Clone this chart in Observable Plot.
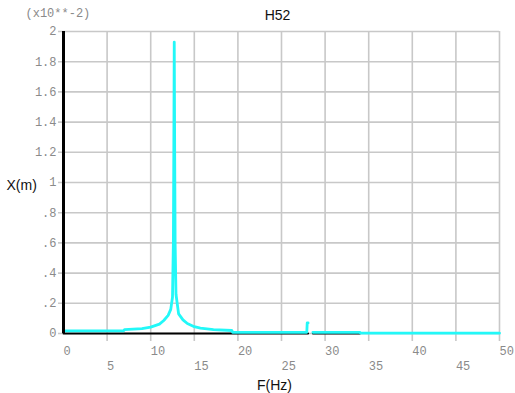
<!DOCTYPE html>
<html>
<head>
<meta charset="utf-8">
<script src="https://cdn.jsdelivr.net/npm/d3@7"></script>
<script src="https://cdn.jsdelivr.net/npm/@observablehq/plot@0.6"></script>
<style>
  html, body { margin: 0; padding: 0; background: #fff; }
</style>
</head>
<body>
<div id="chart"></div>
<script>
// Cyan response curve (F in Hz, X in units of 1e-2 m)
const freqs = [0, 6.9, 7.0, 9, 10, 11, 11.5, 12.0, 12.3, 12.5, 12.6, 12.65, 12.7, 12.75, 12.8, 12.9, 13.2, 13.7, 14.2, 15.0, 15.7, 17.2, 19.3, 19.4, 27.9, 27.95, 28.05, 28.06, 28.6, 34.0, 34.05, 50];
const amps  = [0.018, 0.018, 0.026, 0.032, 0.042, 0.062, 0.086, 0.12, 0.16, 0.24, 0.6, 1.2, 1.93, 1.2, 0.6, 0.26, 0.13, 0.09, 0.066, 0.045, 0.035, 0.026, 0.02, 0.008, 0.008, 0.07, 0.07, NaN, 0.008, 0.008, 0.002, 0.002];

// Black baseline series
const baseF = [0, 28.05, 28.06, 28.6, 34.0];
const baseY = [0, 0, NaN, 0, 0];

// Ticks
const xEven = [0, 10, 20, 30, 40, 50];
const xOdd = [5, 15, 25, 35, 45];
const xGrid = [5, 10, 15, 20, 25, 30, 35, 40, 45, 50];
const yTicks = [0, 0.2, 0.4, 0.6, 0.8, 1, 1.2, 1.4, 1.6, 1.8, 2];
const yLabels = ["0", ".2", ".4", ".6", ".8", "1", "1.2", "1.4", "1.6", "1.8", "2"];

const title = "H52";
const scaleNote = "(x10**-2)";
const xTitle = "F(Hz)";
const yTitle = "X(m)";

const curve = freqs.map((f, i) => ({f, v: amps[i]}));
const base = baseF.map((f, i) => ({f, v: baseY[i]}));
const yLab = yTicks.map((t, i) => ({t, s: yLabels[i]}));

const mono = "'Liberation Mono', 'DejaVu Sans Mono', monospace";
const sans = "'Liberation Sans', Arial, sans-serif";
const tickColor = "#8a8a8a";

const chart = Plot.plot({
  width: 515,
  height: 393,
  marginLeft: 63,
  marginRight: 16,
  marginTop: 31,
  marginBottom: 60,
  x: {domain: [0, 50], axis: null},
  y: {domain: [0, 2], axis: null},
  style: {background: "#fff", overflow: "visible"},
  marks: [
    Plot.gridX(xGrid, {stroke: "#c8c8c8", strokeOpacity: 1, strokeWidth: 1.6, insetBottom: -8}),
    Plot.gridY(yTicks, {stroke: "#c8c8c8", strokeOpacity: 1, strokeWidth: 1.6, insetLeft: -5}),
    Plot.line(base, {x: "f", y: "v", stroke: "#000", strokeWidth: 2}),
    Plot.line(curve, {x: "f", y: "v", stroke: "#22f8f8", strokeWidth: 2.8, curve: "linear"}),
    Plot.ruleX([0], {stroke: "#000", strokeWidth: 3}),
    Plot.text(xEven, {x: d => d, frameAnchor: "bottom", lineAnchor: "middle", dy: 18, textAnchor: "start", fill: tickColor, fontFamily: mono, fontSize: 12}),
    Plot.text(xOdd, {x: d => d, frameAnchor: "bottom", lineAnchor: "middle", dy: 33, textAnchor: "start", fill: tickColor, fontFamily: mono, fontSize: 12}),
    Plot.text(yLab, {y: "t", text: "s", frameAnchor: "left", lineAnchor: "middle", dx: -7, textAnchor: "end", fill: tickColor, fontFamily: mono, fontSize: 12}),
    Plot.text([title], {frameAnchor: "top", lineAnchor: "middle", dx: -4, dy: -16, fill: "#111", fontFamily: sans, fontSize: 14}),
    Plot.text([scaleNote], {frameAnchor: "top-left", lineAnchor: "middle", dx: -38, dy: -18, textAnchor: "start", fill: tickColor, fontFamily: mono, fontSize: 12}),
    Plot.text([yTitle], {frameAnchor: "left", lineAnchor: "middle", dx: -57, dy: 3, textAnchor: "start", fill: "#111", fontFamily: sans, fontSize: 14}),
    Plot.text([xTitle], {frameAnchor: "bottom", lineAnchor: "middle", dx: -7, dy: 52, fill: "#111", fontFamily: sans, fontSize: 14})
  ]
});
document.getElementById("chart").appendChild(chart);
</script>
</body>
</html>
